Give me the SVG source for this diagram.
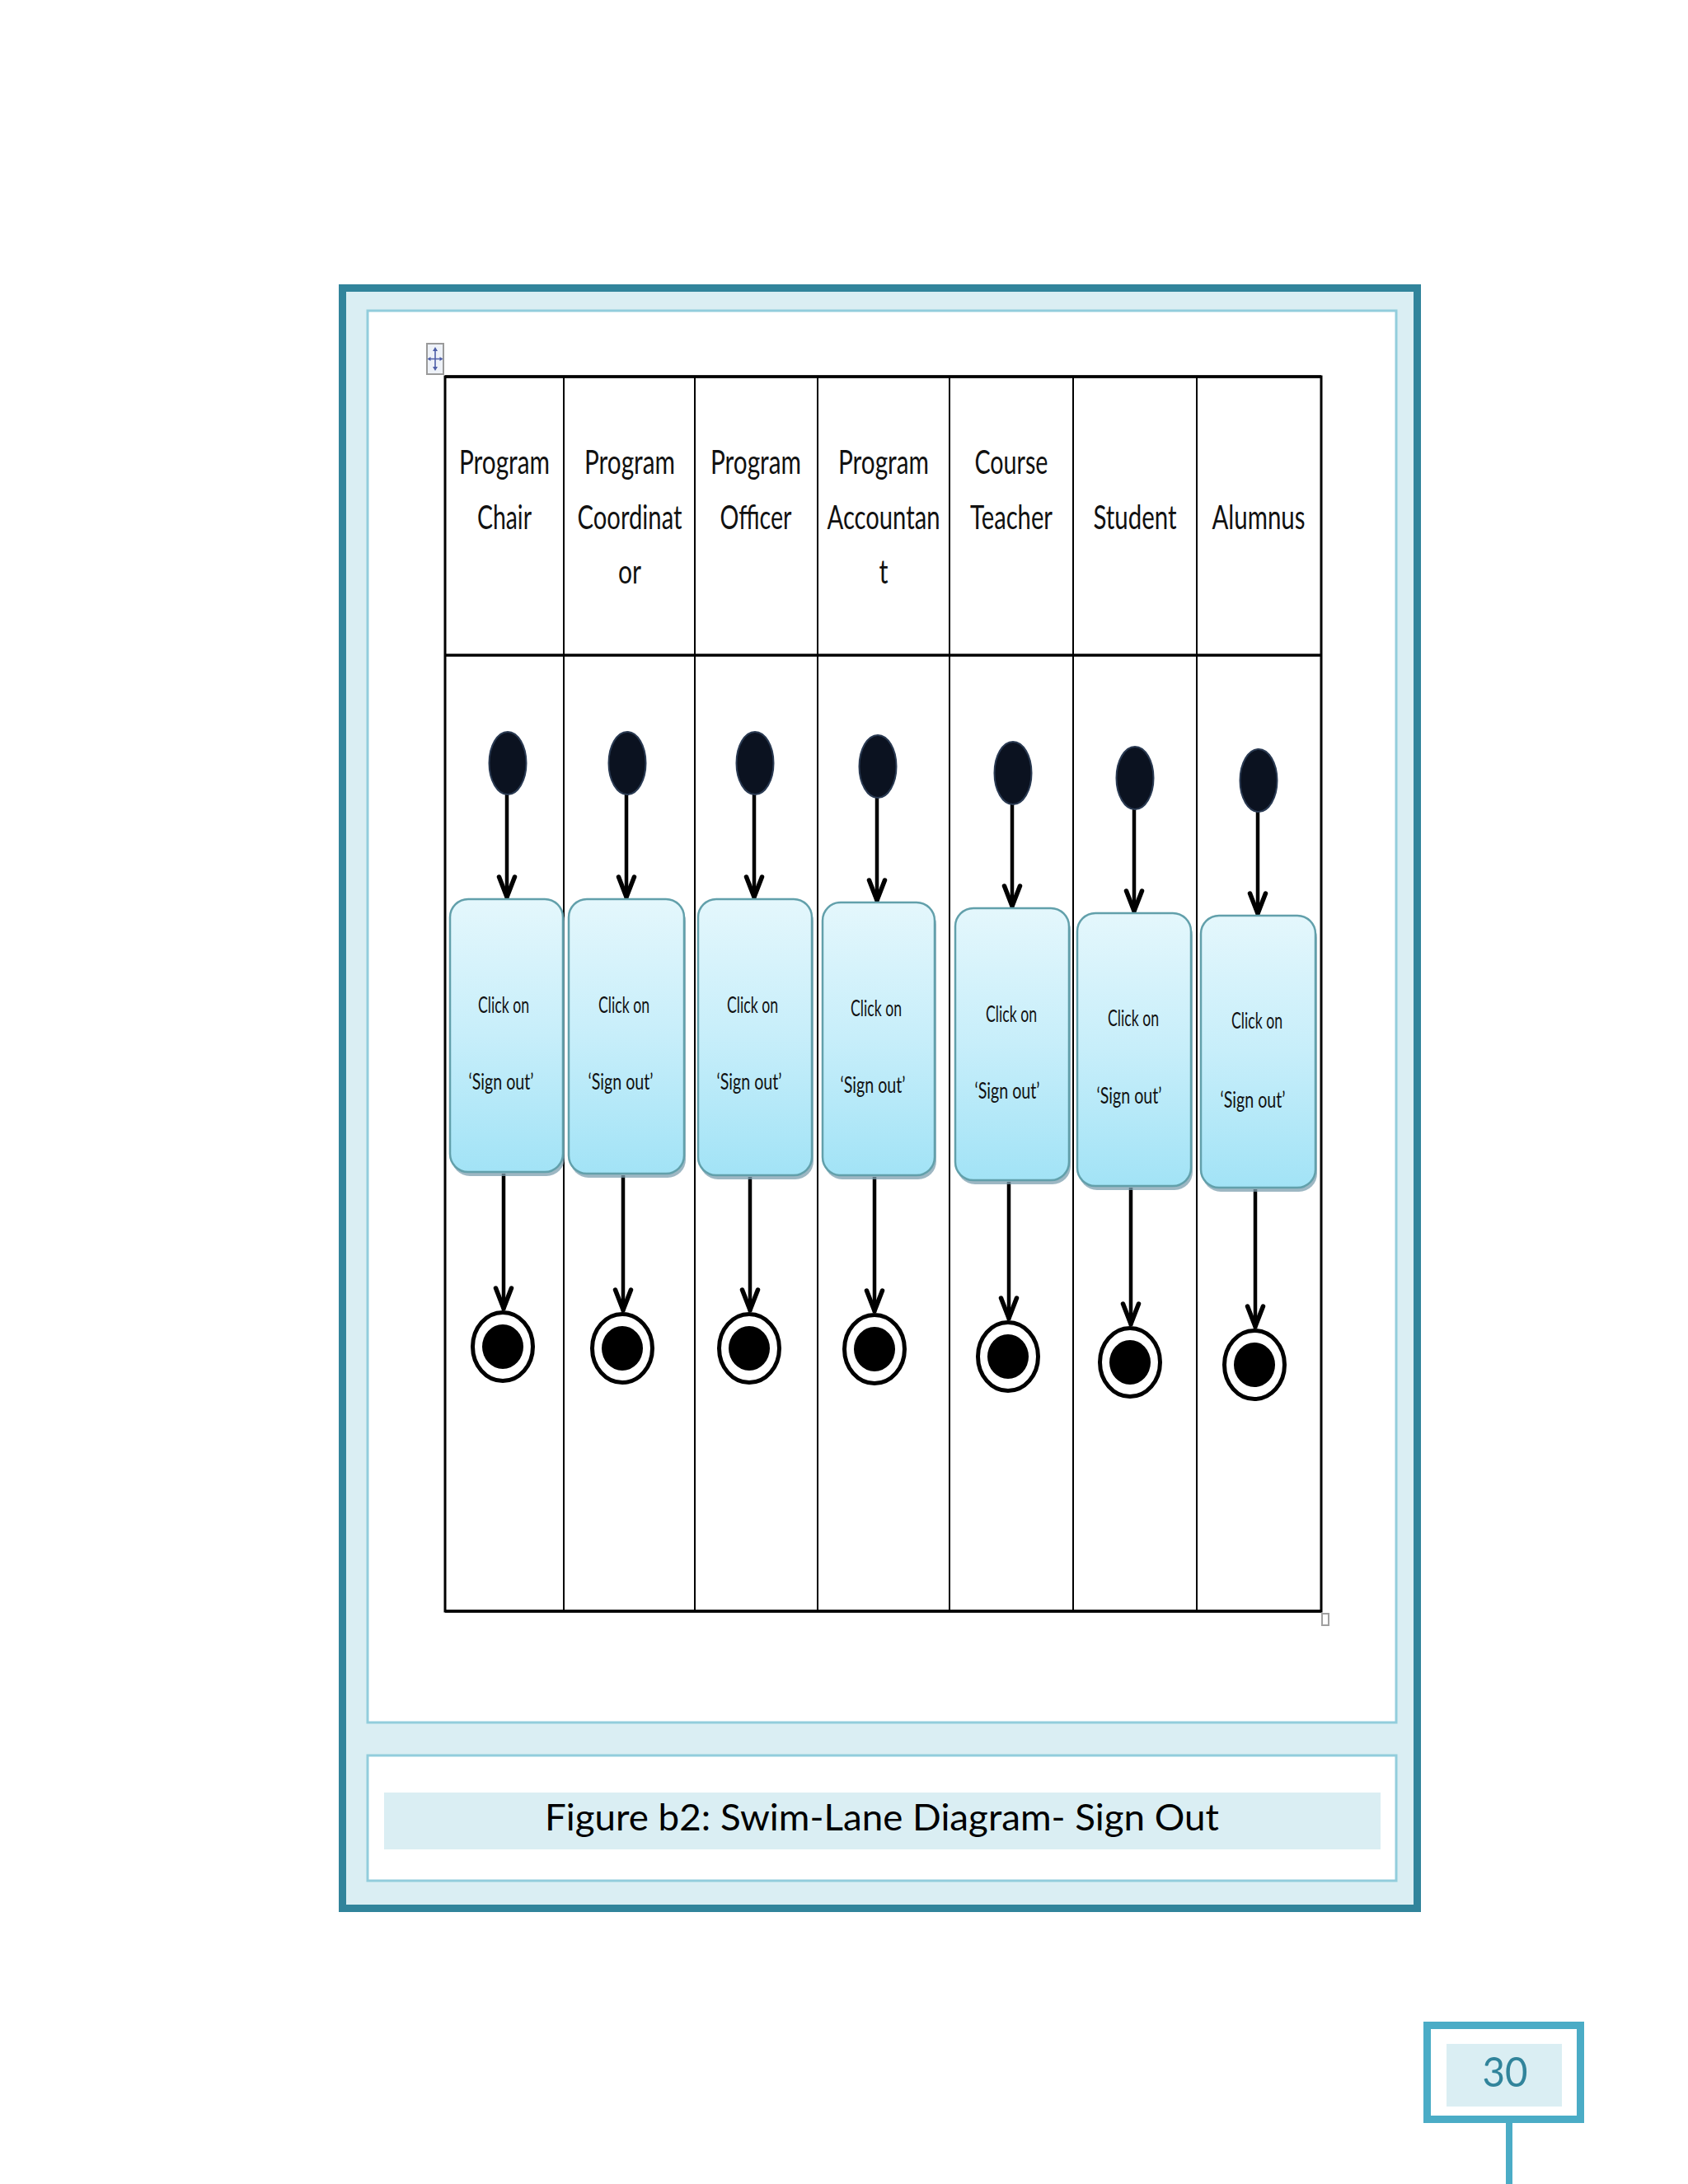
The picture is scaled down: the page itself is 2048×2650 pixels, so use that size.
<svg xmlns="http://www.w3.org/2000/svg" width="2048" height="2650" viewBox="0 0 2048 2650">
<defs>
<style>
.hdr{font-family:Lato,"Open Sans","Liberation Sans",sans-serif;font-size:40px;fill:#111;text-anchor:middle}
.btxt{font-family:Lato,"Open Sans","Liberation Sans",sans-serif;font-size:27px;fill:#111;text-anchor:middle}
.cap{font-family:Lato,"Open Sans","Liberation Sans",sans-serif;font-size:44px;fill:#000;text-anchor:middle}
.pnum{font-family:Lato,"Open Sans","Liberation Sans",sans-serif;font-size:50px;fill:#31849B;text-anchor:middle}
.panel{fill:#FFFFFF;stroke:#92CDDC;stroke-width:3}
.lane{stroke:#000;stroke-width:2;fill:none}
.edge{stroke:#000;stroke-width:4.5;fill:none;marker-end:url(#arrow)}
.start{fill:#0B1220;stroke:#2A3A52;stroke-width:2}
.box{fill:url(#boxGrad);stroke:#62A0AB;stroke-width:2.5}
.shadow{fill:#7C9FAF;opacity:0.75}
.ring{fill:#FFFFFF;stroke:#000;stroke-width:5}
.dot{fill:#000}
</style>
<linearGradient id="boxGrad" x1="0" y1="0" x2="0" y2="1">
<stop offset="0" stop-color="#E4F7FC"/>
<stop offset="0.5" stop-color="#C7EEFA"/>
<stop offset="1" stop-color="#A2E3F6"/>
</linearGradient>
<marker id="arrow" markerUnits="userSpaceOnUse" viewBox="-32 -14 36 28" refX="0" refY="0" markerWidth="36" markerHeight="28" orient="auto">
<path d="M-27,-9.5 L-2.5,0 L-27,9.5" fill="none" stroke="#000" stroke-width="5.5" stroke-linejoin="round" stroke-linecap="round"/>
</marker>
</defs>

<g id="page-frame">
<rect x="415.5" y="349.5" width="1304" height="1966" fill="#DAEEF3" stroke="#31849B" stroke-width="9"/>
<rect class="panel" x="446" y="377" width="1248" height="1713"/>
<rect class="panel" x="446" y="2130" width="1248" height="152"/>
</g>

<g id="table-handles">
<rect x="518" y="417" width="20" height="37" fill="#EEF2F8" stroke="#9A9A9A" stroke-width="2"/>
<path d="M528,423 L528,448 M520,435.5 L536,435.5" stroke="#4F5FA8" stroke-width="1.6" fill="none"/>
<path d="M528,421 L525,426 L531,426 Z M528,450 L525,445 L531,445 Z M518.5,435.5 L522.5,433 L522.5,438 Z M537.5,435.5 L533.5,433 L533.5,438 Z" fill="#4F5FA8"/>
<rect x="1604" y="1958" width="8" height="14" fill="none" stroke="#A0A0A0" stroke-width="2"/>
</g>

<g id="swimlane-table">
<rect x="540" y="457" width="1063" height="1498" fill="#FFFFFF" stroke="#000" stroke-width="3"/>
<line x1="540" y1="457" x2="1603" y2="457" stroke="#000" stroke-width="3.5"/>
<line x1="540" y1="795" x2="1603" y2="795" stroke="#000" stroke-width="3.5"/>
<line x1="540" y1="1955" x2="1603" y2="1955" stroke="#000" stroke-width="3.5"/>
<line class="lane" x1="684" y1="457" x2="684" y2="1955"/>
<line class="lane" x1="843" y1="457" x2="843" y2="1955"/>
<line class="lane" x1="992" y1="457" x2="992" y2="1955"/>
<line class="lane" x1="1152" y1="457" x2="1152" y2="1955"/>
<line class="lane" x1="1302" y1="457" x2="1302" y2="1955"/>
<line class="lane" x1="1452" y1="457" x2="1452" y2="1955"/>
</g>

<g id="lane-headers">
<g id="hdr-program-chair">
<text class="hdr" x="612" y="575" textLength="110" lengthAdjust="spacingAndGlyphs">Program</text>
<text class="hdr" x="612" y="642" textLength="66" lengthAdjust="spacingAndGlyphs">Chair</text>
</g>
<g id="hdr-program-coordinator">
<text class="hdr" x="764" y="575" textLength="110" lengthAdjust="spacingAndGlyphs">Program</text>
<text class="hdr" x="764" y="642" textLength="127" lengthAdjust="spacingAndGlyphs">Coordinat</text>
<text class="hdr" x="764" y="708" textLength="28" lengthAdjust="spacingAndGlyphs">or</text>
</g>
<g id="hdr-program-officer">
<text class="hdr" x="917" y="575" textLength="110" lengthAdjust="spacingAndGlyphs">Program</text>
<text class="hdr" x="917" y="642" textLength="87" lengthAdjust="spacingAndGlyphs">Officer</text>
</g>
<g id="hdr-program-accountant">
<text class="hdr" x="1072" y="575" textLength="110" lengthAdjust="spacingAndGlyphs">Program</text>
<text class="hdr" x="1072" y="642" textLength="137" lengthAdjust="spacingAndGlyphs">Accountan</text>
<text class="hdr" x="1072" y="708" textLength="11" lengthAdjust="spacingAndGlyphs">t</text>
</g>
<g id="hdr-course-teacher">
<text class="hdr" x="1227" y="575" textLength="89" lengthAdjust="spacingAndGlyphs">Course</text>
<text class="hdr" x="1227" y="642" textLength="100" lengthAdjust="spacingAndGlyphs">Teacher</text>
</g>
<g id="hdr-student">
<text class="hdr" x="1377" y="642" textLength="101" lengthAdjust="spacingAndGlyphs">Student</text>
</g>
<g id="hdr-alumnus">
<text class="hdr" x="1527" y="642" textLength="113" lengthAdjust="spacingAndGlyphs">Alumnus</text>
</g>
</g>

<g id="connectors">
<line class="edge" x1="615" y1="962" x2="615" y2="1091"/>
<line class="edge" x1="760" y1="962" x2="760" y2="1091"/>
<line class="edge" x1="915" y1="962" x2="915" y2="1091"/>
<line class="edge" x1="1064" y1="966" x2="1064" y2="1095"/>
<line class="edge" x1="1228" y1="974" x2="1228" y2="1102"/>
<line class="edge" x1="1376" y1="980" x2="1376" y2="1108"/>
<line class="edge" x1="1526" y1="983" x2="1526" y2="1111"/>
<line class="edge" x1="611" y1="1424" x2="611" y2="1590"/>
<line class="edge" x1="756" y1="1426" x2="756" y2="1592"/>
<line class="edge" x1="910" y1="1428" x2="910" y2="1592"/>
<line class="edge" x1="1061" y1="1428" x2="1061" y2="1593"/>
<line class="edge" x1="1224" y1="1434" x2="1224" y2="1602"/>
<line class="edge" x1="1372" y1="1441" x2="1372" y2="1609"/>
<line class="edge" x1="1523" y1="1443" x2="1523" y2="1612"/>
</g>

<g id="start-program-chair"><ellipse class="start" cx="616" cy="926" rx="22.5" ry="38"/></g>
<g id="start-program-coordinator"><ellipse class="start" cx="761" cy="926" rx="22.5" ry="38"/></g>
<g id="start-program-officer"><ellipse class="start" cx="916" cy="926" rx="22.5" ry="38"/></g>
<g id="start-program-accountant"><ellipse class="start" cx="1065" cy="930" rx="22.5" ry="38"/></g>
<g id="start-course-teacher"><ellipse class="start" cx="1229" cy="938" rx="22.5" ry="38"/></g>
<g id="start-student"><ellipse class="start" cx="1377" cy="944" rx="22.5" ry="38"/></g>
<g id="start-alumnus"><ellipse class="start" cx="1527" cy="947" rx="22.5" ry="38"/></g>

<g id="act-program-chair">
<rect class="shadow" x="548" y="1096" width="137" height="331" rx="22"/>
<rect class="box" x="546" y="1091" width="137" height="331" rx="22"/>
<text class="btxt" x="611" y="1229" textLength="62" lengthAdjust="spacingAndGlyphs">Click on</text>
<text class="btxt" x="608" y="1322" textLength="79" lengthAdjust="spacingAndGlyphs">‘Sign out’</text>
</g>
<g id="act-program-coordinator">
<rect class="shadow" x="692" y="1096" width="140" height="333" rx="22"/>
<rect class="box" x="690" y="1091" width="140" height="333" rx="22"/>
<text class="btxt" x="757" y="1229" textLength="62" lengthAdjust="spacingAndGlyphs">Click on</text>
<text class="btxt" x="753" y="1322" textLength="79" lengthAdjust="spacingAndGlyphs">‘Sign out’</text>
</g>
<g id="act-program-officer">
<rect class="shadow" x="849" y="1096" width="138" height="335" rx="22"/>
<rect class="box" x="847" y="1091" width="138" height="335" rx="22"/>
<text class="btxt" x="913" y="1229" textLength="62" lengthAdjust="spacingAndGlyphs">Click on</text>
<text class="btxt" x="909" y="1322" textLength="79" lengthAdjust="spacingAndGlyphs">‘Sign out’</text>
</g>
<g id="act-program-accountant">
<rect class="shadow" x="1000" y="1100" width="136" height="331" rx="22"/>
<rect class="box" x="998" y="1095" width="136" height="331" rx="22"/>
<text class="btxt" x="1063" y="1233" textLength="62" lengthAdjust="spacingAndGlyphs">Click on</text>
<text class="btxt" x="1059" y="1326" textLength="79" lengthAdjust="spacingAndGlyphs">‘Sign out’</text>
</g>
<g id="act-course-teacher">
<rect class="shadow" x="1161" y="1107" width="138" height="330" rx="22"/>
<rect class="box" x="1159" y="1102" width="138" height="330" rx="22"/>
<text class="btxt" x="1227" y="1240" textLength="62" lengthAdjust="spacingAndGlyphs">Click on</text>
<text class="btxt" x="1222" y="1333" textLength="79" lengthAdjust="spacingAndGlyphs">‘Sign out’</text>
</g>
<g id="act-student">
<rect class="shadow" x="1309" y="1113" width="138" height="331" rx="22"/>
<rect class="box" x="1307" y="1108" width="138" height="331" rx="22"/>
<text class="btxt" x="1375" y="1245" textLength="62" lengthAdjust="spacingAndGlyphs">Click on</text>
<text class="btxt" x="1370" y="1339" textLength="79" lengthAdjust="spacingAndGlyphs">‘Sign out’</text>
</g>
<g id="act-alumnus">
<rect class="shadow" x="1459" y="1116" width="139" height="330" rx="22"/>
<rect class="box" x="1457" y="1111" width="139" height="330" rx="22"/>
<text class="btxt" x="1525" y="1248" textLength="62" lengthAdjust="spacingAndGlyphs">Click on</text>
<text class="btxt" x="1520" y="1344" textLength="79" lengthAdjust="spacingAndGlyphs">‘Sign out’</text>
</g>

<g id="end-program-chair"><ellipse class="ring" cx="610" cy="1634" rx="36.5" ry="41.5"/><ellipse class="dot" cx="610" cy="1634" rx="25" ry="27"/></g>
<g id="end-program-coordinator"><ellipse class="ring" cx="755" cy="1636" rx="36.5" ry="41.5"/><ellipse class="dot" cx="755" cy="1636" rx="25" ry="27"/></g>
<g id="end-program-officer"><ellipse class="ring" cx="909" cy="1636" rx="36.5" ry="41.5"/><ellipse class="dot" cx="909" cy="1636" rx="25" ry="27"/></g>
<g id="end-program-accountant"><ellipse class="ring" cx="1061" cy="1637" rx="36.5" ry="41.5"/><ellipse class="dot" cx="1061" cy="1637" rx="25" ry="27"/></g>
<g id="end-course-teacher"><ellipse class="ring" cx="1223" cy="1646" rx="36.5" ry="41.5"/><ellipse class="dot" cx="1223" cy="1646" rx="25" ry="27"/></g>
<g id="end-student"><ellipse class="ring" cx="1371" cy="1653" rx="36.5" ry="41.5"/><ellipse class="dot" cx="1371" cy="1653" rx="25" ry="27"/></g>
<g id="end-alumnus"><ellipse class="ring" cx="1522" cy="1656" rx="36.5" ry="41.5"/><ellipse class="dot" cx="1522" cy="1656" rx="25" ry="27"/></g>

<g id="caption">
<rect x="466" y="2175" width="1209" height="69" fill="#DAEEF3"/>
<text class="cap" x="1070" y="2221" textLength="818" lengthAdjust="spacingAndGlyphs">Figure b2: Swim-Lane Diagram- Sign Out</text>
</g>

<g id="page-number">
<rect x="1827" y="2576" width="8" height="74" fill="#4BACC6"/>
<rect x="1731.5" y="2457.5" width="186" height="114" fill="#FFFFFF" stroke="#4BACC6" stroke-width="9"/>
<rect x="1755" y="2480" width="140" height="76" fill="#DAEEF3"/>
<text class="pnum" x="1826" y="2532" textLength="55" lengthAdjust="spacingAndGlyphs">30</text>
</g>
</svg>
